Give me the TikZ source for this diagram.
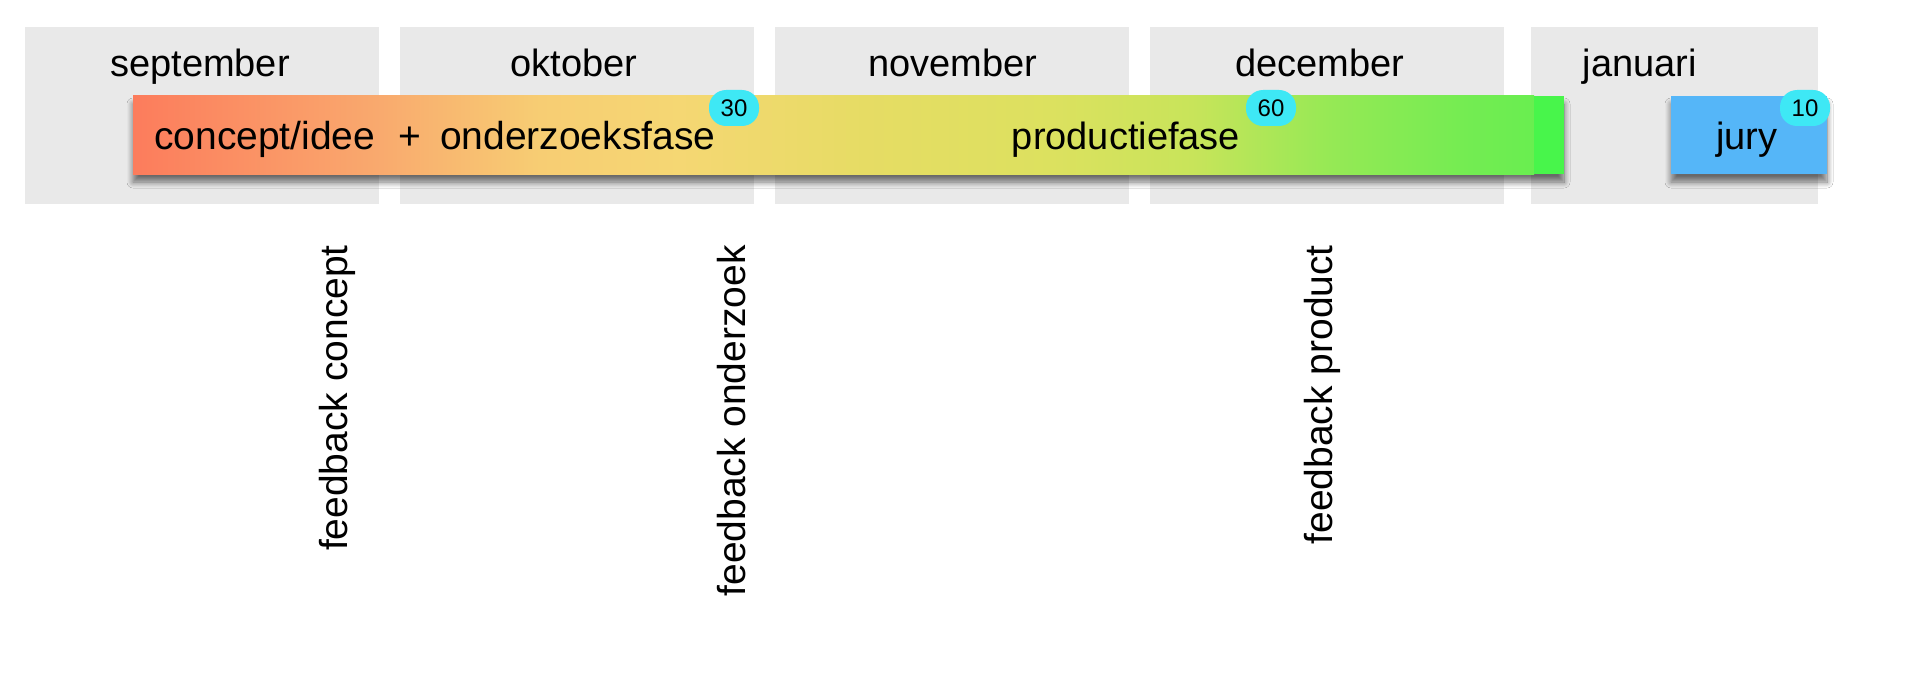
\documentclass[tikz,border=0pt]{standalone}
\usepackage{fontspec}
\setmainfont{Liberation Sans}
\usetikzlibrary{shadows.blur}
\definecolor{s1}{RGB}{252,124,92}
\definecolor{s2}{RGB}{249,170,110}
\definecolor{s3}{RGB}{247,205,115}
\definecolor{s4}{RGB}{245,215,115}
\definecolor{s5}{RGB}{230,220,100}
\definecolor{s6}{RGB}{220,225,95}
\definecolor{s7}{RGB}{200,228,90}
\definecolor{s8}{RGB}{150,233,85}
\definecolor{s9}{RGB}{115,236,82}
\definecolor{s10}{RGB}{105,238,80}
\definecolor{boxgray}{RGB}{233,233,233}
\definecolor{endgreen}{RGB}{72,245,75}
\definecolor{juryblue}{RGB}{85,182,248}
\definecolor{badgecyan}{RGB}{62,232,245}
\pgfdeclarehorizontalshading{barshade}{100bp}{
 color(0bp)=(s1); color(25bp)=(s1); color(33.85bp)=(s2); color(39.5bp)=(s3);
 color(44.5bp)=(s4); color(51.1bp)=(s5); color(57.8bp)=(s6); color(62.8bp)=(s7);
 color(67.7bp)=(s8); color(72.7bp)=(s9); color(75bp)=(s10); color(100bp)=(s10)}
\begin{document}
\begin{tikzpicture}[x=1pt,y=-1pt,
  monthbox/.style={fill=boxgray, draw=none, minimum height=177pt, inner sep=0pt, outer sep=0pt},
  bigtext/.style={font=\fontsize{38pt}{40pt}\selectfont, inner sep=0pt, text=black},
  badge/.style={fill=badgecyan, draw=none, rounded corners=17pt, minimum width=50pt, minimum height=36pt, inner sep=0pt, font=\fontsize{24pt}{26pt}\selectfont},
  shadowed/.style={blur shadow={shadow xshift=0pt, shadow yshift=-8pt, shadow blur radius=6pt, shadow blur steps=10, shadow opacity=55}},
  vlabel/.style={bigtext, font=\fontsize{39pt}{41pt}\selectfont, rotate=90, anchor=base east}]
\fill[white] (0,0) rectangle (1918,690);
\useasboundingbox (0,0) rectangle (1918,690);
% month boxes
\node[monthbox, minimum width=354pt] (sepbox) at (202,115.5) {};
\node[monthbox, minimum width=354pt] (octbox) at (577,115.5) {};
\node[monthbox, minimum width=354pt] (novbox) at (952,115.5) {};
\node[monthbox, minimum width=354pt] (decbox) at (1327,115.5) {};
\node[monthbox, minimum width=287pt] (janbox) at (1674.5,115.5) {};
% month labels
\node[bigtext, anchor=base] (sep) at (200,77) {september};
\node[bigtext, anchor=base] (oct) at (574,77) {oktober};
\node[bigtext, anchor=base] (nov) at (953,77) {november};
\node[bigtext, anchor=base] (dec) at (1320,77) {december};
\node[bigtext, anchor=base] (jan) at (1640,77) {januari};
% bar
\path[shadowed] (133,96) rectangle (1564,174);
\shade[shading=barshade] (133,96) rectangle (1534,174);
\fill[endgreen] (1534,96) rectangle (1564,174);
\node[inner sep=0pt, minimum width=1431pt, minimum height=78pt] (bar) at (848.5,135) {};
% jury box
\node[fill=juryblue, shadowed, minimum width=156pt, minimum height=78pt, inner sep=0pt] (jurybox) at (1749,135) {};
% bar texts
\node[bigtext, font=\fontsize{39pt}{41pt}\selectfont, anchor=base west] (phase1) at (154,149) {concept/idee\hspace{23pt}+\hspace{19pt}onderzoeksfase};
\node[bigtext, anchor=base] (phase2) at (1126,149) {productiefase};
\node[bigtext, anchor=base] (jury) at (1747,149) {jury};
% badges
\node[badge] (b30) at (734,108) {30};
\node[badge] (b60) at (1271,108) {60};
\node[badge] (b10) at (1805,108) {10};
% vertical labels
\node[vlabel] (fbc) at (347,245) {feedback concept};
\node[vlabel] (fbo) at (745,245) {feedback onderzoek};
\node[vlabel] (fbp) at (1332,245) {feedback product};
\end{tikzpicture}
\end{document}
